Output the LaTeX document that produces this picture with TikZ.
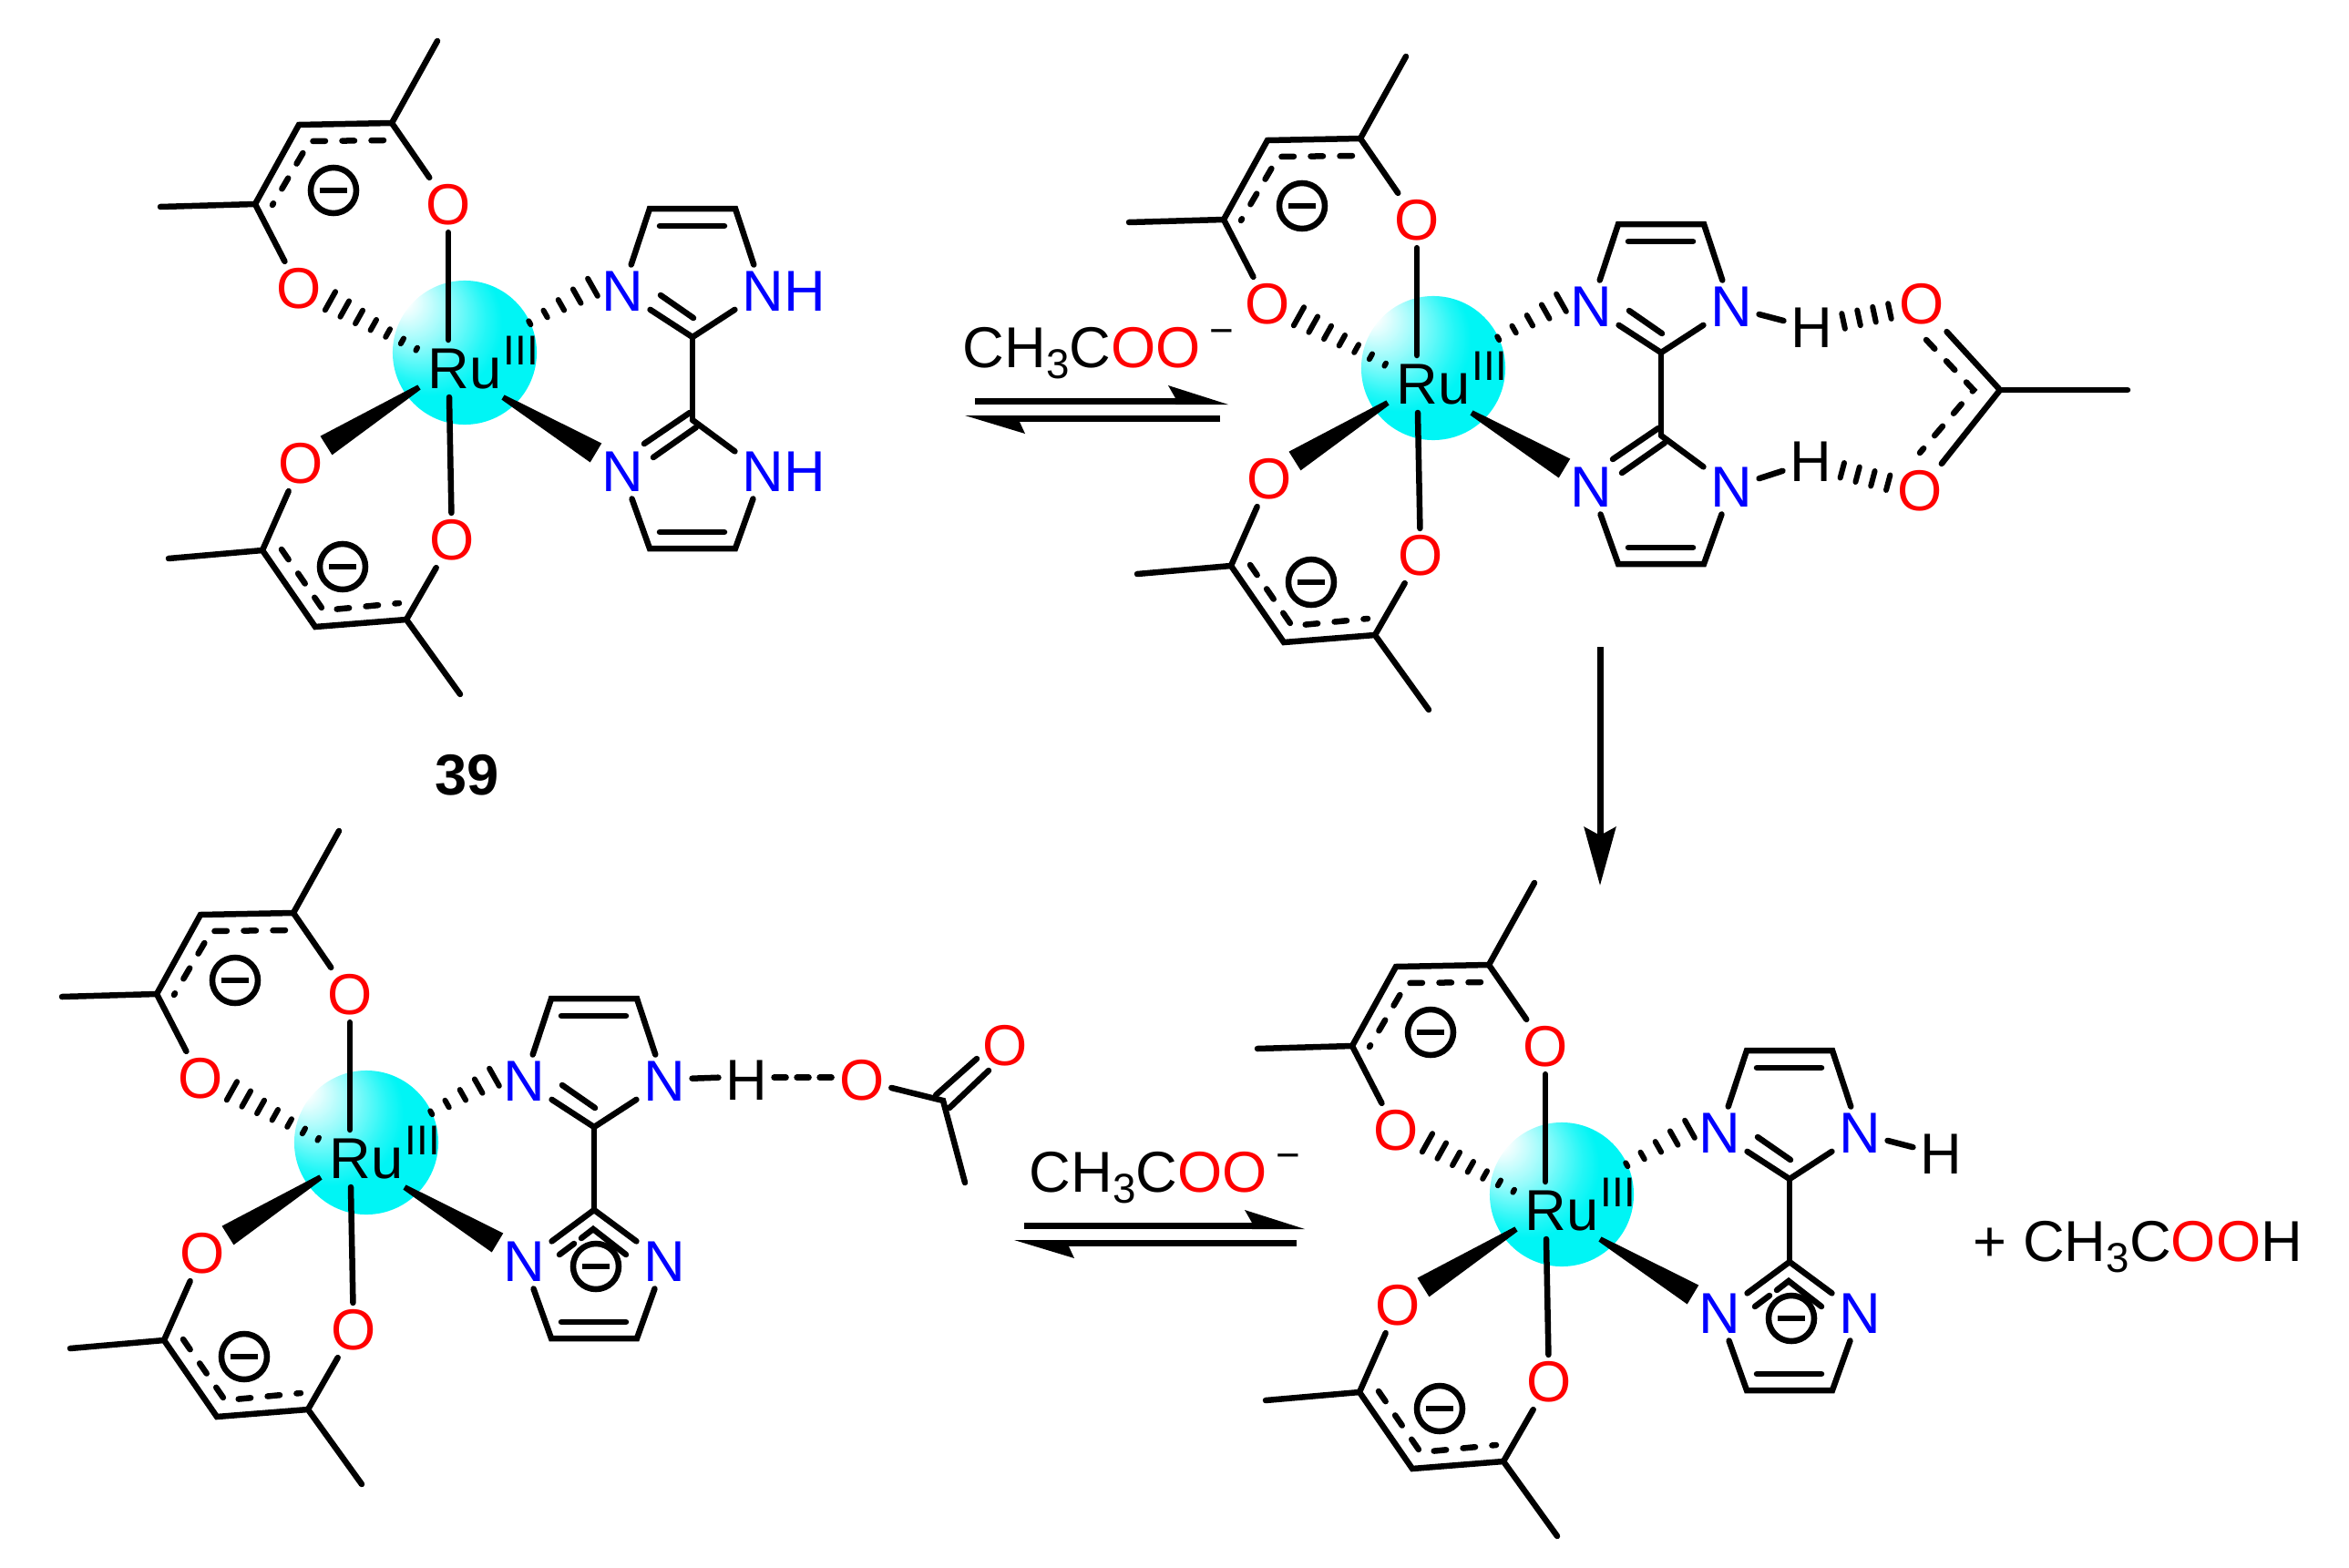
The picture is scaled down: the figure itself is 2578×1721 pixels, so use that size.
\documentclass[tikz,border=0pt]{standalone}
\usepackage{fontspec}
\setmainfont{Liberation Sans}
\usetikzlibrary{calc,arrows.meta}

\definecolor{rucyan}{RGB}{0,245,245}
\pgfdeclareradialshading{ruball}{\pgfpoint{-24bp}{20bp}}{color(0bp)=(white); color(3bp)=(white); color(12bp)=(rucyan!40!white); color(21bp)=(rucyan!85!white); color(25bp)=(rucyan); color(50bp)=(rucyan)}

\newcommand{\three}{\raisebox{-.19em}{\fontsize{13}{13}\selectfont 3}}
\newcommand{\minuscharge}{\kern.15em\raisebox{.38em}{\fontsize{13}{13}\selectfont −}}
\newcommand{\hashbond}[4]{
  \foreach \i in {1,...,#3}{
    \pgfmathsetmacro\t{\i/#3}
    \draw[hashline] ($(#1)!\t!#4:(#2)$) -- ($(#1)!\t!-#4:(#2)$);
  }
}
\newcommand{\hbond}[2]{
  \foreach \t in {.29,.43,.57,.71}{
    \draw[hashline] ($(#1)!\t!(#2)!.085cm!90:(#2)$) -- ($(#1)!\t!(#2)!.085cm!-90:(#2)$);
  }
}
\newcommand{\wedgebond}[2]{
  \fill ($(#1)!.03cm!90:(#2)$) -- ($(#2)!.122cm!-90:(#1)$) -- ($(#2)!.122cm!90:(#1)$) -- ($(#1)!.03cm!-90:(#2)$) -- cycle;
}
\newcommand{\minusmark}[2]{
  \node[chargecirc] (#1) at (#2) {};
  \draw[chargebar] ([xshift=-.15cm]#1.center) -- ([xshift=.15cm]#1.center);
}

% Ru centre with two acac rings and the biimidazole frame
\newcommand{\acacRu}[3]{
  \begin{scope}[shift={(#2,#3)}]
    \coordinate (#1c) at (0,0);
    \shade[shading=ruball] (#1c) circle (.79cm);

    \node[atomO] (#1Oa) at (-18,-162) {O};
    \node[atomO] (#1Ob) at (-182,-70) {O};
    \node[atomO] (#1Oc) at (-180,122) {O};
    \node[atomO] (#1Od) at (-14,206) {O};
    \node[atomK] (#1Ru) at (0,18) {Ru};
    \node[atomS] (#1III) at (62,-2) {III};

    \coordinate (#1Ma) at (-30,-342);
    \coordinate (#1Ca) at (-80,-252);
    \coordinate (#1Cb) at (-182,-250);
    \coordinate (#1Cc) at (-230,-163);
    \coordinate (#1Mb) at (-334,-160);
    \draw[bond] (#1Ma) -- (#1Ca) -- (#1Cb) -- (#1Cc) -- (#1Mb);
    \draw[bond] (#1Ca) -- (#1Oa);
    \draw[bond] (#1Cc) -- (#1Ob);
    \coordinate (#1Da) at (-89,-233);
    \coordinate (#1Db) at (-170,-232);
    \coordinate (#1Dc) at (-211,-162);
    \draw[delocal] (#1Da) -- (#1Db) -- (#1Dc);
    \minusmark{#1Qa}{-144,-178}

    \coordinate (#1Mc) at (-325,226);
    \coordinate (#1Cd) at (-222,217);
    \coordinate (#1Ce) at (-164,301);
    \coordinate (#1Cf) at (-64,293);
    \coordinate (#1Md) at (-5,375);
    \draw[bond] (#1Mc) -- (#1Cd) -- (#1Ce) -- (#1Cf) -- (#1Md);
    \draw[bond] (#1Cd) -- (#1Oc);
    \draw[bond] (#1Cf) -- (#1Od);
    \coordinate (#1Dd) at (-201,216);
    \coordinate (#1De) at (-155,283);
    \coordinate (#1Df) at (-72,275);
    \draw[delocal] (#1Dd) -- (#1De) -- (#1Df);
    \minusmark{#1Qb}{-134,235}

    \coordinate (#1Rt) at (-18,-14);
    \coordinate (#1Rb) at (-17,49);
    \draw[bond] (#1Oa) -- (#1Rt);
    \draw[bond] (#1Od) -- (#1Rb);
    \coordinate (#1Ha) at (-37,5);
    \coordinate (#1Hb) at (-148,-57);
    \hashbond{#1Ha}{#1Hb}{7}{5.2}
    \coordinate (#1Hc) at (54,-23);
    \coordinate (#1Hd) at (141,-72);
    \hashbond{#1Hc}{#1Hd}{5}{6.3}
    \coordinate (#1Wa) at (-50,38);
    \coordinate (#1Wb) at (-152,102);
    \wedgebond{#1Wa}{#1Wb}
    \coordinate (#1Wc) at (42,49);
    \coordinate (#1Wd) at (144,110);
    \wedgebond{#1Wc}{#1Wd}

    \node[atomN] (#1Na) at (173,-67) {N};
    \node[atomN] (#1Nb) at (327,-67) {N};
    \node[atomN] (#1Nc) at (173,131) {N};
    \node[atomN] (#1Nd) at (327,131) {N};
    \coordinate (#1Ea) at (203,-158);
    \coordinate (#1Eb) at (297,-158);
    \coordinate (#1Ec) at (250,-17);
    \coordinate (#1Ed) at (250,74);
    \coordinate (#1Ee) at (203,215);
    \coordinate (#1Ef) at (297,215);
    \draw[bond] (#1Na) -- (#1Ea) -- (#1Eb) -- (#1Nb);
    \draw[bond] (#1Na) -- (#1Ec) -- (#1Nb);
    \draw[bond] (#1Ec) -- (#1Ed);
    \draw[bond] (#1Nc) -- (#1Ee) -- (#1Ef) -- (#1Nd);
    \draw[bond] (#1Ed) -- (#1Nd);
    \coordinate (#1Ia) at (214,-139);
    \coordinate (#1Ib) at (285,-139);
    \draw[bond] (#1Ia) -- (#1Ib);
    \coordinate (#1Ic) at (215,-63);
    \coordinate (#1Id) at (251,-38);
    \draw[bond] (#1Ic) -- (#1Id);
    \coordinate (#1Ie) at (214,197);
    \coordinate (#1If) at (285,197);
    \draw[bond] (#1Ie) -- (#1If);
  \end{scope}
}
% neutral lower ring
\newcommand{\imineRing}[1]{
  \begin{scope}[shift={(#1c)}]
    \coordinate (#1Ja) at (197,100);
    \coordinate (#1Jb) at (247,66);
    \coordinate (#1Jc) at (207,115);
    \coordinate (#1Jd) at (254,82);
    \draw[bond] (#1Ja) -- (#1Jb);
    \draw[bond] (#1Jc) -- (#1Jd);
  \end{scope}
}
% deprotonated lower ring
\newcommand{\anionRing}[1]{
  \begin{scope}[shift={(#1c)}]
    \draw[bond] (#1Ed) -- (#1Nc);
    \coordinate (#1Ja) at (212,123);
    \coordinate (#1Jb) at (228,111);
    \coordinate (#1Jc) at (236,105);
    \coordinate (#1Jd) at (249,95);
    \coordinate (#1Je) at (285,123);
    \draw[bond] (#1Ja) -- (#1Jb);
    \draw[bond] (#1Jc) -- (#1Jd) -- (#1Je);
    \minusmark{#1Qc}{252,136}
  \end{scope}
}
% equilibrium half arrows
\newcommand{\eqarrows}[4]{
  \begin{scope}[shift={(#2,#3)}]
    \coordinate (#1a) at (0,3.5);
    \coordinate (#1b) at (#4-54,3.5);
    \coordinate (#1c) at (#4-9,22.5);
    \coordinate (#1d) at (46,22.5);
    \draw[eqline] (#1a) -- (#1b);
    \draw[eqline] (#1c) -- (#1d);
    \fill (#4,7) -- (#4-66,-14) -- (#4-58,0) -- (#4-58,7) -- cycle;
    \fill (-11,19) -- (55,39) -- (49,26) -- (49,19) -- cycle;
  \end{scope}
}

\begin{document}
\begin{tikzpicture}[x=.01cm,y=-.01cm]

  \tikzstyle{bond} = [line width=.065cm,line cap=round];
  \tikzstyle{delocal} = [bond,dash pattern=on .135cm off .185cm];
  \tikzstyle{hashline} = [line width=.06cm,line cap=round];
  \tikzstyle{chargecirc} = [circle,draw,line width=.065cm,minimum size=.5cm,inner sep=0pt];
  \tikzstyle{chargebar} = [line width=.065cm];
  \tikzstyle{eqline} = [line width=.07cm];
  \tikzstyle{atomK} = [font=\fontsize{18}{18}\selectfont,inner sep=.07cm];
  \tikzstyle{atomO} = [atomK,text=red];
  \tikzstyle{atomN} = [atomK,text=blue];
  \tikzstyle{atomS} = [font=\fontsize{13}{13}\selectfont,inner sep=0pt];
  \tikzstyle{label} = [atomK,anchor=base west,inner sep=0pt];

  \useasboundingbox (0,0) rectangle (2578,1721);

  % 39
  \acacRu{a}{510}{387}
  \imineRing{a}
  \node[atomN] (aHb) at ($(aNb)+(46,0)$) {H};
  \node[atomN] (aHd) at ($(aNd)+(46,0)$) {H};
  \node[atomK] (num) at (512.5,850.5) {\bfseries 39};

  % acetate on both NH
  \acacRu{b}{1573}{404}
  \imineRing{b}
  \node[atomK] (bHb) at (1988,360) {H};
  \node[atomK] (bHd) at (1987,507) {H};
  \draw[bond] (bNb) -- (bHb);
  \draw[bond] (bNd) -- (bHd);
  \node[atomO] (bOe) at (2109,334) {O};
  \node[atomO] (bOf) at (2107,539) {O};
  \coordinate (bAc) at (2195,428);
  \coordinate (bAm) at (2335,428);
  \draw[bond] (bOe) -- (bAc) -- (bOf);
  \draw[bond] (bAc) -- (bAm);
  \coordinate (bDa) at (2114,373);
  \coordinate (bDb) at (2166,428);
  \coordinate (bDc) at (2107,497);
  \draw[delocal] (bDa) -- (bDb) -- (bDc);
  \hbond{bHb}{bOe}
  \hbond{bHd}{bOf}

  % one NH left
  \acacRu{c}{402}{1254}
  \anionRing{c}
  \node[atomK] (cHb) at (819,1186) {H};
  \node[atomO] (cOe) at (946,1186) {O};
  \node[atomO] (cOf) at (1103,1148) {O};
  \coordinate (cAc) at (1035,1208);
  \coordinate (cAm) at (1059,1298);
  \draw[bond] ([yshift=.033cm]cNb.east) -- ([yshift=.033cm]cHb.west);
  \draw[bond,dash pattern=on .13cm off .12cm] ([yshift=.033cm]cHb.east) -- ([yshift=.033cm]cOe.west);
  \draw[bond] (cOe) -- (cAc) -- (cAm);
  \coordinate (cBa) at (1027,1202);
  \coordinate (cBb) at (1072,1162);
  \coordinate (cBc) at (1042,1216);
  \coordinate (cBd) at (1085,1175);
  \draw[bond] (cBa) -- (cBb);
  \draw[bond] (cBc) -- (cBd);

  % free ligand NH
  \acacRu{d}{1714}{1311}
  \anionRing{d}
  \node[atomK] (dHb) at (2130,1267) {H};
  \draw[bond] (dNb) -- (dHb);
  \node[label] (acid) at (2165,1384) {+ CH\three C\textcolor{red}{OO}H};

  % arrows
  \node[label] (baseA) at (1056,403) {CH\three C\textcolor{red}{OO}\minuscharge};
  \eqarrows{eqA}{1070}{437}{278}
  \node[label] (baseB) at (1129,1308) {CH\three C\textcolor{red}{OO}\minuscharge};
  \eqarrows{eqB}{1124}{1342}{308}
  \coordinate (downA) at (1756,710);
  \coordinate (downB) at (1756,972);
  \draw[line width=.07cm,-{Stealth[length=.64cm,width=.345cm,inset=.09cm]}] (downA) -- (downB);

\end{tikzpicture}
\end{document}
